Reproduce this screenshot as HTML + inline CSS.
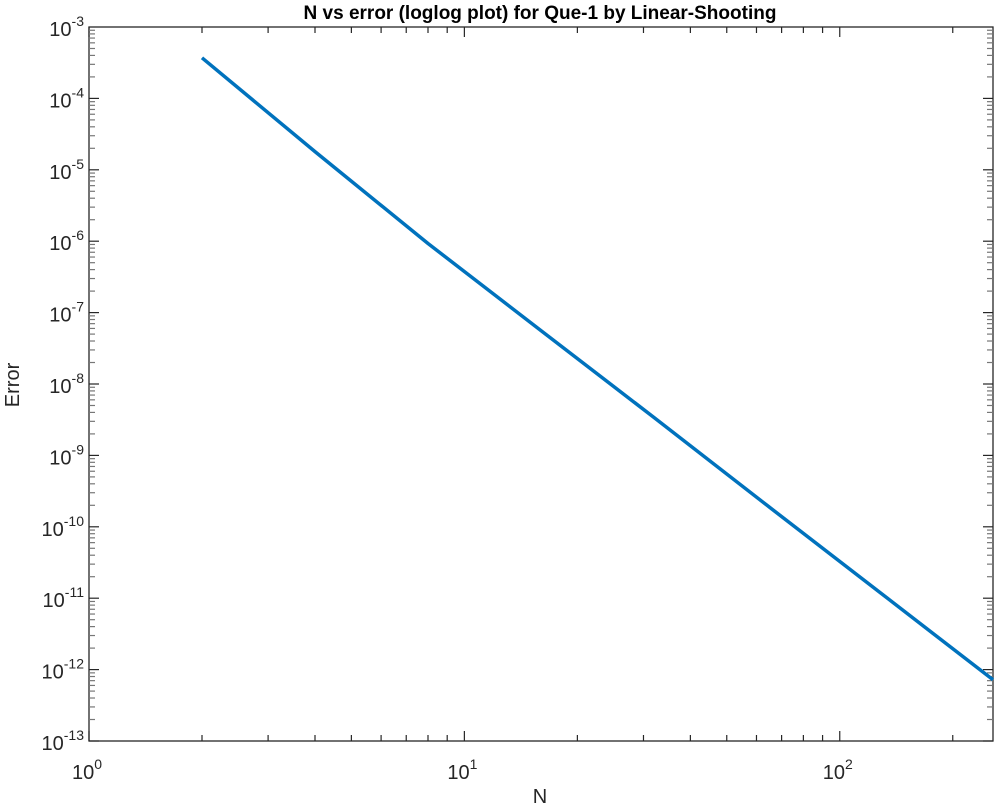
<!DOCTYPE html>
<html><head><meta charset="utf-8"><style>
html,body{margin:0;padding:0;background:#fff;}
svg{display:block;font-family:"Liberation Sans",Arial,sans-serif;}
</style></head><body>
<svg id="chart" width="996" height="806" xmlns="http://www.w3.org/2000/svg">
<rect width="996" height="806" fill="#fff"/>
<text x="540" y="19" text-anchor="middle" font-weight="bold" font-size="19" fill="#000">N vs error (loglog plot) for Que-1 by Linear-Shooting</text>
<text x="540" y="803" text-anchor="middle" font-size="20" fill="#262626">N</text>
<text transform="translate(19,385) rotate(-90)" text-anchor="middle" font-size="20" fill="#262626">Error</text>
<g id="axes"></g>
<g id="series"></g>
</svg>
<script>
const nValues = [2, 4, 8, 16, 32, 64, 128, 256];
const errorValues = [3.7e-4, 1.8e-5, 9.3e-7, 5.6e-8, 3.4e-9, 2.0e-10, 1.2e-11, 7.2e-13];
const xTickExps = [0, 1, 2];
const yTickExps = [-3, -4, -5, -6, -7, -8, -9, -10, -11, -12, -13];

const L = 89, R = 993, T = 27, B = 741;
const xMin = 0, xMax = Math.log10(256), yMin = -13, yMax = -3;
function xs(v){ return L + (Math.log10(v) - xMin) / (xMax - xMin) * (R - L); }
function ys(v){ return B - (Math.log10(v) - yMin) / (yMax - yMin) * (B - T); }
const NS = "http://www.w3.org/2000/svg";
const axes = document.getElementById('axes');
function mk(tag, attrs, parent){
  const e = document.createElementNS(NS, tag);
  for (const k in attrs) e.setAttribute(k, attrs[k]);
  parent.appendChild(e); return e;
}
const frame = mk('rect', {x:L, y:T, width:R-L, height:B-T, fill:'none', stroke:'#262626', 'stroke-width':1.3}, axes);


for (let d = 0; d <= 2; d++) {
  for (let m = 1; m <= 9; m++) {
    const v = m * Math.pow(10, d);
    if (v > 256) break;
    const x = xs(v), len = m === 1 ? 10 : 6;
    mk('line', {x1:x, x2:x, y1:B, y2:B-len, stroke:'#262626', 'stroke-width':1.2}, axes);
    mk('line', {x1:x, x2:x, y1:T, y2:T+len, stroke:'#262626', 'stroke-width':1.2}, axes);
  }
}
xTickExps.forEach(e => {
  const x = xs(Math.pow(10, e));
  const t = mk('text', {x:x-2, y:B+38, 'text-anchor':'middle', 'font-size':20, fill:'#262626'}, axes);
  
  
  t.textContent = '10';
  const s = mk('tspan', {dy:-10, 'font-size':14}, t); s.textContent = String(e);
});
for (let d = -13; d < -3; d++) {
  for (let m = 1; m <= 9; m++) {
    const v = m * Math.pow(10, d);
    const y = ys(v), len = m === 1 ? 10 : 6;
    mk('line', {x1:L, x2:L+len, y1:y, y2:y, stroke:m===1?'#262626':'#777', 'stroke-width':1.2}, axes);
    mk('line', {x1:R, x2:R-len, y1:y, y2:y, stroke:m===1?'#262626':'#777', 'stroke-width':1.2}, axes);
  }
}
yTickExps.forEach(e => {
  const y = ys(Math.pow(10, e));
  const t = mk('text', {x:L-5, y:y+9, 'text-anchor':'end', 'font-size':20, fill:'#262626'}, axes);
  
  
  t.textContent = '10';
  const s = mk('tspan', {dy:-10, 'font-size':14}, t); s.textContent = String(e);
});
const pts = nValues.map((n, i) => xs(n).toFixed(1) + ',' + ys(errorValues[i]).toFixed(1)).join(' ');
const line = mk('polyline', {points:pts, fill:'none', stroke:'#0072BD', 'stroke-width':3.5, 'stroke-linejoin':'round'}, document.getElementById('series'));


</script>
</body></html>
